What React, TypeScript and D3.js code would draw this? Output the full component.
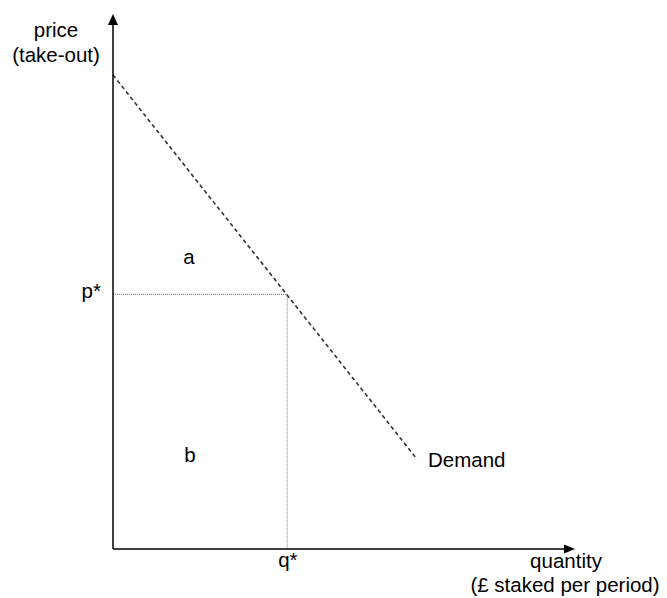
import React from "react";
import * as d3 from "d3";

// ---- data (abstract units) ----
const xDomain = [0, 100];
const yDomain = [0, 100];
const demandQ = [0, 65.8];
const demandP = [88.6, 16.8];
const qStar = 37.7;
const pStar = 47.6;
const areaLabels = ["a", "b"];
const areaLabelQ = [15.2, 15.4];
const areaLabelP = [54.2, 17.2];
const yTitle = ["price", "(take-out)"];
const xTitle = ["quantity", "(£ staked per period)"];
const demandLabel = "Demand";
const pLabel = "p*";
const qLabel = "q*";

const W = 667;
const H = 598;
const FONT = "'Liberation Sans', Arial, Helvetica, sans-serif";
const FS = 20.5;

export default function App() {
  const x = d3.scaleLinear().domain(xDomain).range([113, 575]);
  const y = d3.scaleLinear().domain(yDomain).range([549, 14]);
  const line = d3
    .line<[number, number]>()
    .x((d) => x(d[0]))
    .y((d) => y(d[1]));
  const demandPts: [number, number][] = demandQ.map((q, i) => [q, demandP[i]]);

  const x0 = x(0);
  const y0 = y(0);
  const xEnd = x(xDomain[1]);
  const yEnd = y(yDomain[1]);

  return (
    <svg
      width={W}
      height={H}
      style={{ position: "absolute", left: 0, top: 0, background: "#fff" }}
      fontFamily={FONT}
      fontSize={FS}
    >
      {/* dotted guides */}
      <line
        x1={x0}
        x2={x(qStar)}
        y1={y(pStar)}
        y2={y(pStar)}
        stroke="#777"
        strokeWidth={1}
        strokeDasharray="1,1"
      />
      <line
        x1={x(qStar)}
        x2={x(qStar)}
        y1={y(pStar)}
        y2={y0}
        stroke="#777"
        strokeWidth={1}
        strokeDasharray="1,1"
      />
      {/* demand */}
      <path
        d={line(demandPts) || ""}
        fill="none"
        stroke="#333"
        strokeWidth={1.6}
        strokeDasharray="4,3"
      />
      {/* axes */}
      <line x1={x0} x2={x0} y1={y0} y2={yEnd + 8} stroke="#000" strokeWidth={1.5} />
      <line x1={x0} x2={xEnd - 8} y1={y0} y2={y0} stroke="#000" strokeWidth={1.5} />
      <path
        d={`M${x0},${yEnd} L${x0 - 5},${yEnd + 11} L${x0 + 5},${yEnd + 11} Z`}
        fill="#000"
      />
      <path
        d={`M${xEnd},${y0} L${xEnd - 11},${y0 - 4.5} L${xEnd - 11},${y0 + 4.5} Z`}
        fill="#000"
      />
      {/* labels */}
      <text x={56} y={37} textAnchor="middle">{yTitle[0]}</text>
      <text x={56} y={62} textAnchor="middle">{yTitle[1]}</text>
      <text x={566} y={568} textAnchor="middle">{xTitle[0]}</text>
      <text x={565} y={592} textAnchor="middle">{xTitle[1]}</text>
      <text x={101} y={y(pStar) + 4} textAnchor="end">{pLabel}</text>
      <text x={x(qStar) - 9} y={567}>{qLabel}</text>
      <text x={x(demandQ[1]) + 11} y={y(demandP[1]) + 8}>{demandLabel}</text>
      {areaLabels.map((l, i) => (
        <text key={l} x={x(areaLabelQ[i])} y={y(areaLabelP[i]) + 5}>
          {l}
        </text>
      ))}
    </svg>
  );
}
